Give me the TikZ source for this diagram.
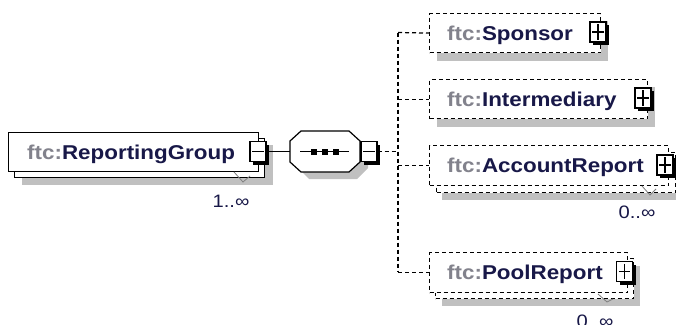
\documentclass[tikz,border=0pt]{standalone}
\usepackage{fontspec}
\setmainfont{Liberation Sans}[FakeStretch=1.12]
\usetikzlibrary{calc}
\definecolor{shd}{RGB}{192,192,192}
\definecolor{nav}{RGB}{24,24,72}
\definecolor{pfx}{RGB}{130,130,140}
\tikzset{
  x=1pt, y=-1pt,
  sbox/.style={draw=black, line width=1.2pt, fill=white, inner sep=0, anchor=north west},
  dbox/.style={sbox, dash pattern=on 4pt off 3pt},
  shdw/.style={fill=shd, draw=none},
  conn/.style={line width=1.2pt},
  dconn/.style={line width=1.2pt, dash pattern=on 4pt off 3pt},
  lbl/.style={font=\fontsize{20}{24}\selectfont\bfseries, anchor=base west, inner sep=0},
  mult/.style={font=\fontsize{18}{22}\selectfont, text=nav, anchor=base, inner sep=0},
  notch/.style={draw=gray, line width=0.8pt},
  pmbox/.style={draw=black, line width=1.2pt, fill=white, minimum width=16pt, minimum height=20pt, inner sep=0},
  pmsym/.style={line width=1.3pt},
}
\newcommand{\pmshadow}[2]{\fill[black] (#1-8+3,#2-10+3) rectangle (#1+8+3,#2+10+3);}
\begin{document}
\begin{tikzpicture}
\useasboundingbox[fill=white] (0,0) rectangle (676,324);

% ---------- shadows ----------
\fill[shdw] (22,145) rectangle (273,185);
\fill[shdw] (437,21) rectangle (608,61);
\fill[shdw] (437,87) rectangle (655,127);
\fill[shdw] (442,160) rectangle (683,200);
\fill[shdw] (442,266) rectangle (640,306);
\fill[shdw] (298,149) -- (309,138) -- (357,138) -- (368,149) -- (368,168) -- (357,179) -- (309,179) -- (298,168) -- cycle;

% ---------- ReportingGroup ----------
\node[sbox, minimum width=250pt, minimum height=39pt] (rgb) at (14,138) {};
\node[sbox, minimum width=250pt, minimum height=39pt] (rg) at (8,132) {};
\draw[notch] (234,172) -- (243,182) -- (250,176);
\node[lbl] (rgt) at (27,159) {\textcolor{pfx}{ftc:}\textcolor{nav}{ReportingGroup}};
\node[mult] (rgm1) at (231,207) {1..∞};

% ---------- sequence ----------
\node[minimum width=70pt, minimum height=41pt, inner sep=0] (seq) at (325,151.5) {};
\draw[line width=1.2pt, fill=white] (290,141) -- (301,131) -- (349,131) -- (360,141) -- (360,162) -- (349,172) -- (301,172) -- (290,162) -- cycle;
\draw[conn] (300,151.5) -- (349,151.5);
\foreach \cx in {314,325,336} \fill[black] (\cx-3,148.5) rectangle (\cx+3,154.5);

% ---------- Sponsor ----------
\node[dbox, minimum width=171pt, minimum height=39pt] (sp) at (429,13) {};
\node[lbl] (spt) at (447,40) {\textcolor{pfx}{ftc:}\textcolor{nav}{Sponsor}};

% ---------- Intermediary ----------
\node[dbox, minimum width=218pt, minimum height=39pt] (im) at (429,79) {};
\node[lbl] (imt) at (447,106) {\textcolor{pfx}{ftc:}\textcolor{nav}{Intermediary}};

% ---------- AccountReport ----------
\node[dbox, minimum width=239pt, minimum height=40pt] (arb) at (436,152) {};
\node[dbox, minimum width=239pt, minimum height=40pt] (ar) at (429,145) {};
\draw[notch] (642,186) -- (650,195) -- (656,189);
\node[lbl] (art) at (447,172.5) {\textcolor{pfx}{ftc:}\textcolor{nav}{AccountReport}};
\node[mult] (arm) at (637,218) {0..∞};

% ---------- PoolReport ----------
\node[dbox, minimum width=198pt, minimum height=40pt] (prb) at (435,258) {};
\node[dbox, minimum width=198pt, minimum height=40pt] (pr) at (429,252) {};
\draw[notch] (598,294) -- (607,302) -- (613,299);
\node[lbl] (prt) at (447,279.5) {\textcolor{pfx}{ftc:}\textcolor{nav}{PoolReport}};
\node[mult] (prm) at (595,327) {0..∞};

% ---------- connectors ----------
\coordinate (tt) at (398,32.5);
\coordinate (tb) at (398,272);
\coordinate (tj) at (398,151.5);
\draw[dconn] (tt) -- (tb);
\draw[dconn] (tt) -- (sp.west);
\draw[dconn] (tj |- im.west) -- (im.west);
\draw[dconn] (tj |- ar.west) -- (ar.west);
\draw[dconn] (tj |- pr.west) -- (pr.west);

% ---------- +/- boxes ----------
\pmshadow{258}{151.5}
\node[pmbox] (rgmin) at (258,151.5) {};
\draw[pmsym] ([xshift=3pt]rgmin.west) -- ([xshift=-3pt]rgmin.east);
\draw[conn] (rgmin.east) -- (seq.west);

\pmshadow{369}{151.5}
\node[pmbox] (sqmin) at (369,151.5) {};
\draw[pmsym] ([xshift=3pt]sqmin.west) -- ([xshift=-3pt]sqmin.east);
\draw[dconn] (sqmin.east) -- (tj);

\pmshadow{598}{32}
\node[pmbox] (spp) at (598,32) {};
\draw[pmsym] ([xshift=3pt]spp.west) -- ([xshift=-3pt]spp.east);
\draw[pmsym] ([yshift=-3pt]spp.north) -- ([yshift=3pt]spp.south);

\pmshadow{643}{98}
\node[pmbox] (imp) at (643,98) {};
\draw[pmsym] ([xshift=3pt]imp.west) -- ([xshift=-3pt]imp.east);
\draw[pmsym] ([yshift=-3pt]imp.north) -- ([yshift=3pt]imp.south);

\pmshadow{665}{165}
\node[pmbox] (arp) at (665,165) {};
\draw[pmsym] ([xshift=3pt]arp.west) -- ([xshift=-3pt]arp.east);
\draw[pmsym] ([yshift=-3pt]arp.north) -- ([yshift=3pt]arp.south);

\pmshadow{624.5}{271.5}
\node[pmbox] (prp) at (624.5,271.5) {};
\draw[pmsym] ([xshift=3pt]prp.west) -- ([xshift=-3pt]prp.east);
\draw[pmsym] ([yshift=-3pt]prp.north) -- ([yshift=3pt]prp.south);
\end{tikzpicture}
\end{document}
